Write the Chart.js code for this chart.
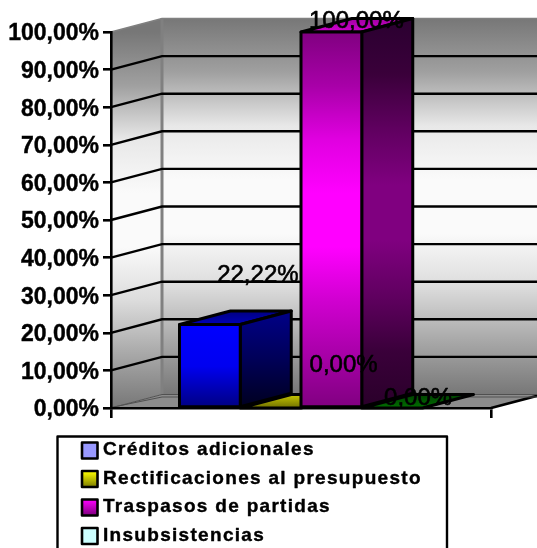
<!DOCTYPE html>
<html>
<head>
<meta charset="utf-8">
<style>
  html, body { margin: 0; background: #fff; }
  canvas { display: block; }
</style>
<script src="https://cdn.jsdelivr.net/npm/chart.js@4"></script>
</head>
<body>
<div style="width:537px;height:548px"><canvas id="grafico" width="537" height="548"></canvas></div>
<script>
// Porcentaje por tipo de modificación presupuestaria
const categorias = ["Modificaciones"];
const series = ["Créditos adicionales", "Rectificaciones al presupuesto", "Traspasos de partidas", "Insubsistencias"];
const valores = [22.22, 0, 100, 0];
const marcasEje = [0, 10, 20, 30, 40, 50, 60, 70, 80, 90, 100];

// Profundidad de la caja 3D en pixeles
const FONDO_X = 51;
const FONDO_Y = -13.5;

const fmt = v => v.toFixed(2).replace(".", ",") + "%";

// Colores de cada serie: frente, lado y tapa (de arriba hacia abajo)
const estilos = [
  { frente: ["#0000ff", "#0000f0", "#000080"], lado: ["#000088", "#000058", "#000020"], tapa: ["#000080", "#0000b8"] },
  { frente: ["#ffff00", "#ffff00", "#808000"], lado: ["#808000", "#808000", "#404000"], tapa: ["#c8c800", "#707000"] },
  {
    frente: ["#800080", "#a800a8", "#e000e0", "#ff00ff", "#ff00ff", "#d000d0", "#a800a8", "#800080"],
    lado: ["#2a0030", "#3a003a", "#600060", "#800080", "#800080", "#600060", "#3a003a", "#2a002a"],
    tapa: ["#a000a0", "#d000d0"]
  },
  { frente: ["#00ff00", "#00ff00", "#008000"], lado: ["#008000", "#008000", "#004000"], tapa: ["#004000", "#007000"] }
];
// Colores de las muestras de la leyenda
const muestras = [
  ["#9999ff", "#9999ff"],
  ["#ffff00", "#808000"],
  ["#ff00ff", "#800080"],
  ["#ccffff", "#ccffff"]
];
// Desplazamiento de cada etiqueta de valor respecto a la barra
const despEtiquetas = [[48, -49], [73, -43], [25, -11], [26, -10]];

function gradV(ctx, y0, y1, cols) {
  const g = ctx.createLinearGradient(0, y0, 0, y1);
  cols.forEach((c, i) => g.addColorStop(i / (cols.length - 1), c));
  return g;
}

function poligono(ctx, pts, relleno, borde) {
  ctx.beginPath();
  pts.forEach((p, i) => i ? ctx.lineTo(p[0], p[1]) : ctx.moveTo(p[0], p[1]));
  ctx.closePath();
  ctx.fillStyle = relleno;
  ctx.fill();
  if (borde) {
    ctx.lineWidth = 3;
    ctx.lineJoin = "round";
    ctx.strokeStyle = borde;
    ctx.stroke();
  }
}

// Paredes, piso y lineas de division de la caja
const cajaPlugin = {
  id: "caja",
  beforeDraw(chart) {
    const { ctx, chartArea: a, scales } = chart;
    const { left: l, right: r, top: t, bottom: b } = a;
    const dx = FONDO_X, dy = FONDO_Y;
    ctx.save();
    const paredCols = ["#777777", "#a0a0a0", "#e8e8e8", "#fafafa", "#fafafa", "#dcdcdc", "#a8a8a8", "#777777"];
    const pared = gradV(ctx, t + dy, b + dy, paredCols);
    poligono(ctx, [[l + dx, t + dy], [r + dx, t + dy], [r + dx, b + dy], [l + dx, b + dy]], pared);
    poligono(ctx, [[l, t], [l + dx, t + dy], [l + dx, b + dy], [l, b]], gradV(ctx, t, b, paredCols));
    poligono(ctx, [[l, b], [r, b], [r + dx, b + dy], [l + dx, b + dy]], "#8c8c8c");

    // Arista gris entre paredes y borde superior
    ctx.strokeStyle = "#808080";
    ctx.lineWidth = 3;
    ctx.beginPath();
    ctx.moveTo(l + dx, t + dy);
    ctx.lineTo(l + dx, b + dy);
    ctx.stroke();
    ctx.lineWidth = 1.5;
    ctx.beginPath();
    ctx.moveTo(l, t);
    ctx.lineTo(l + dx, t + dy);
    ctx.lineTo(r + dx, t + dy);
    ctx.stroke();

    ctx.strokeStyle = "#000";
    ctx.lineWidth = 2.4;
    scales.y.ticks.forEach(tk => {
      if (tk.value === 0 || tk.value === 100) return;
      const y = scales.y.getPixelForValue(tk.value);
      ctx.beginPath();
      ctx.moveTo(l, y);
      ctx.lineTo(l + dx, y + dy);
      ctx.lineTo(r + dx, y + dy);
      ctx.stroke();
    });
    // Piso: borde frontal derecho
    ctx.lineWidth = 2.6;
    ctx.beginPath();
    ctx.moveTo(r, b);
    ctx.lineTo(r + dx, b + dy);
    ctx.stroke();
    // Piso: doble linea fina del fondo
    ctx.strokeStyle = "#505050";
    ctx.lineWidth = 1;
    [0, 2.5].forEach(d => {
      ctx.beginPath();
      ctx.moveTo(l, b - d * 0.2);
      ctx.lineTo(l + dx, b + dy + d);
      ctx.lineTo(r + dx, b + dy + d);
      ctx.stroke();
    });
    ctx.restore();
  },
  // Lados y tapas de las barras, antes de los frentes
  beforeDatasetsDraw(chart) {
    const { ctx } = chart;
    const dx = FONDO_X, dy = FONDO_Y;
    ctx.save();
    chart.data.datasets.forEach((ds, i) => {
      const bar = chart.getDatasetMeta(i).data[0];
      const x0 = bar.x - bar.width / 2, x1 = bar.x + bar.width / 2;
      const y0 = bar.y, y1 = bar.base;
      const est = estilos[i];
      poligono(ctx, [[x0, y0], [x1, y0], [x1 + dx, y0 + dy], [x0 + dx, y0 + dy]],
        gradV(ctx, y0 + dy, y0, est.tapa), "#000");
      if (y1 - y0 > 1) {
        poligono(ctx, [[x1, y0], [x1 + dx, y0 + dy], [x1 + dx, y1 + dy], [x1, y1]],
          gradV(ctx, y0 + dy, y1, est.lado), "#000");
      }
    });
    ctx.restore();
  },
  afterDatasetsDraw(chart) {
    const { ctx } = chart;
    ctx.save();
    // Contorno del frente, centrado sobre la arista como en lados y tapas
    ctx.strokeStyle = "#000";
    ctx.lineWidth = 3;
    ctx.lineJoin = "round";
    chart.data.datasets.forEach((ds, i) => {
      const bar = chart.getDatasetMeta(i).data[0];
      if (bar.base - bar.y > 1) ctx.strokeRect(bar.x - bar.width / 2, bar.y, bar.width, bar.base - bar.y);
    });

    // Etiquetas de valor
    ctx.font = "24px 'Liberation Sans'";
    ctx.fillStyle = "#000";
    ctx.lineWidth = 0.6;
    ctx.textAlign = "center";
    ctx.textBaseline = "middle";
    chart.data.datasets.forEach((ds, i) => {
      const bar = chart.getDatasetMeta(i).data[0];
      const d = despEtiquetas[i];
      ctx.fillText(fmt(ds.data[0]), bar.x + d[0], bar.y + d[1]);
      ctx.strokeText(fmt(ds.data[0]), bar.x + d[0], bar.y + d[1]);
    });

    // Leyenda en una columna
    const caja = { x: 57.5, y: 436.5, w: 389.5, pasoFila: 28.5 };
    ctx.lineWidth = 2.4;
    ctx.strokeRect(caja.x, caja.y, caja.w, 120);
    ctx.font = "bold 19px 'Liberation Sans'";
    ctx.letterSpacing = "1.3px";
    ctx.textAlign = "left";
    chart.data.datasets.forEach((ds, i) => {
      const yc = 450 + i * caja.pasoFila;
      ctx.fillStyle = gradV(ctx, yc - 7, yc + 8, muestras[i]);
      ctx.lineWidth = 2.6;
      ctx.fillRect(82, yc - 7.5, 15.5, 16);
      ctx.strokeRect(82, yc - 7.5, 15.5, 16);
      ctx.fillStyle = "#000";
      ctx.lineWidth = 0.4;
      ctx.fillText(ds.label, 103, yc);
      ctx.strokeText(ds.label, 103, yc);
    });
    ctx.restore();
  }
};

new Chart(document.getElementById("grafico"), {
  type: "bar",
  data: {
    labels: categorias,
    datasets: series.map((nombre, i) => ({
      label: nombre,
      data: [valores[i]],
      borderWidth: 0,
      categoryPercentage: 243 / 380,
      barPercentage: 1,
      backgroundColor(c) {
        const esc = c.chart.scales.y;
        if (!esc || !c.chart.chartArea) return estilos[i].frente[0];
        return gradV(c.chart.ctx, esc.getPixelForValue(valores[i]), esc.getPixelForValue(0), estilos[i].frente);
      }
    }))
  },
  plugins: [cajaPlugin],
  options: {
    responsive: false,
    animation: false,
    layout: { padding: { top: 32, right: 46, bottom: 130, left: 0 } },
    plugins: { legend: { display: false }, tooltip: { enabled: false } },
    scales: {
      x: {
        offset: true,
        grid: { offset: true, drawOnChartArea: false, color: "#000", lineWidth: 2.6, tickLength: 10 },
        border: { color: "#000", width: 2.6 },
        ticks: { display: false }
      },
      y: {
        min: 0,
        max: 100,
        afterBuildTicks(s) { s.ticks = marcasEje.map(v => ({ value: v })); },
        afterFit(s) { s.width = 111; },
        grid: { drawOnChartArea: false, color: "#000", lineWidth: 2.6, tickLength: 8 },
        border: { color: "#000", width: 2.6 },
        ticks: {
          padding: 4,
          color: "#000",
          labelOffset: 2,
          textStrokeColor: "#000",
          textStrokeWidth: 0.4,
          font: { family: "'Liberation Sans'", size: 23, weight: "bold" },
          callback: v => fmt(v)
        }
      }
    }
  }
});
</script>
</body>
</html>
